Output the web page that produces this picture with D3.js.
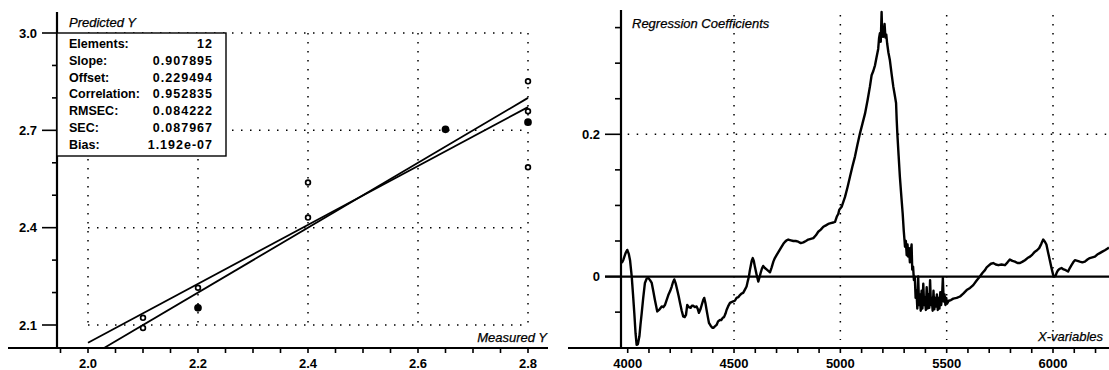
<!DOCTYPE html>
<html><head><meta charset="utf-8">
<script src="https://cdn.jsdelivr.net/npm/d3@7"></script>
<style>
body{margin:0;background:#fff;}
svg{display:block;}
text{font-family:"Liberation Sans",Arial,sans-serif;fill:#000;}
.tick{font-weight:bold;font-size:13px;}
.title{font-style:italic;font-size:13px;stroke:#000;stroke-width:0.25px;}
.stat{font-weight:bold;font-size:12.5px;}
</style></head><body>
<svg id="c" width="1109" height="370"></svg>
<script>
// ---------- data ----------
const measuredY  = [2.1, 2.1, 2.2, 2.2, 2.4, 2.4, 2.65, 2.8, 2.8, 2.8, 2.8];
const predictedY = [2.122, 2.091, 2.215, 2.153, 2.539, 2.431, 2.703, 2.851, 2.759, 2.725, 2.586];
const pointFilled = [0, 0, 0, 1, 0, 0, 1, 0, 0, 1, 0];
const statLabels = ["Elements:", "Slope:", "Offset:", "Correlation:", "RMSEC:", "SEC:", "Bias:"];
const statValues = ["12", "0.907895", "0.229494", "0.952835", "0.084222", "0.087967", "1.192e-07"];
const slope = 0.907895, offset = 0.229494;
const leftXTicks = [2.0, 2.2, 2.4, 2.6, 2.8];
const leftYTicks = [2.1, 2.4, 2.7, 3.0];
const rightXTicks = [4000, 4500, 5000, 5500, 6000];
const rightYTicks = [0, 0.2];

const coefX = [3972,3979,3990,3998,4005,4011,4019,4025,4031,4037,4042,4048,4055,4060,4066,4073,4081,4089,4097,4105,4113,4120,4128,4139,4150,4160,4168,4175,4183,4191,4200,4207,4213,4219,4226,4233,4240,4246,4254,4261,4268,4274,4280,4288,4296,4302,4308,4316,4324,4330,4335,4342,4348,4355,4360,4366,4371,4377,4382,4390,4398,4403,4410,4418,4425,4434,4440,4447,4453,4460,4465,4472,4481,4488,4496,4504,4512,4520,4528,4535,4543,4550,4559,4565,4570,4574,4578,4583,4588,4593,4598,4606,4614,4620,4625,4631,4637,4645,4653,4661,4669,4677,4685,4692,4700,4712,4724,4732,4740,4748,4755,4767,4779,4790,4802,4814,4826,4838,4849,4861,4873,4885,4896,4908,4920,4932,4943,4955,4967,4975,4983,4990,4995,5006,5014,5022,5034,5045,5057,5069,5080,5092,5104,5116,5128,5139,5147,5155,5163,5170,5178,5182,5186,5190,5194,5197,5201,5205,5208,5212,5216,5220,5226,5233,5241,5249,5256,5262,5265,5268,5274,5280,5287,5293,5298,5302,5304,5308,5312,5316,5319,5323,5327,5331,5335,5338,5342,5346,5350,5354,5358,5362,5366,5370,5374,5378,5382,5386,5390,5394,5398,5402,5406,5410,5414,5418,5422,5426,5430,5434,5438,5442,5446,5450,5454,5458,5462,5466,5470,5474,5478,5482,5486,5490,5494,5498,5502,5510,5520,5531,5547,5563,5578,5594,5610,5625,5640,5656,5668,5680,5688,5696,5708,5719,5731,5743,5758,5774,5786,5797,5809,5821,5833,5845,5857,5868,5880,5892,5903,5915,5925,5935,5945,5954,5962,5969,5977,5985,5993,6001,6006,6012,6018,6024,6032,6040,6050,6060,6071,6079,6087,6095,6103,6115,6126,6138,6150,6162,6173,6185,6197,6208,6220,6232,6244,6255,6263];
const coefY = [0.019,0.023,0.033,0.0375,0.032,0.023,0.0,-0.025,-0.051,-0.08,-0.096,-0.095,-0.084,-0.068,-0.051,-0.03,-0.009,-0.003,-0.002,-0.005,-0.009,-0.02,-0.033,-0.049,-0.046,-0.042,-0.043,-0.040,-0.033,-0.026,-0.02,-0.014,-0.008,-0.004,-0.01,-0.019,-0.028,-0.037,-0.048,-0.056,-0.057,-0.054,-0.040,-0.043,-0.044,-0.041,-0.041,-0.043,-0.042,-0.046,-0.051,-0.046,-0.040,-0.033,-0.030,-0.038,-0.047,-0.057,-0.065,-0.069,-0.072,-0.072,-0.070,-0.068,-0.063,-0.061,-0.061,-0.058,-0.057,-0.052,-0.047,-0.042,-0.037,-0.036,-0.035,-0.034,-0.030,-0.029,-0.026,-0.024,-0.023,-0.019,-0.014,-0.006,0.0,0.008,0.014,0.022,0.026,0.022,0.014,0.003,-0.007,-0.001,0.005,0.011,0.015,0.012,0.010,0.008,0.006,0.013,0.021,0.026,0.030,0.036,0.042,0.046,0.049,0.051,0.052,0.051,0.050,0.050,0.049,0.047,0.048,0.050,0.052,0.053,0.054,0.058,0.063,0.066,0.070,0.072,0.074,0.075,0.076,0.077,0.084,0.088,0.094,0.098,0.105,0.112,0.126,0.140,0.155,0.169,0.185,0.201,0.215,0.229,0.248,0.267,0.283,0.289,0.297,0.308,0.320,0.335,0.342,0.330,0.372,0.338,0.337,0.345,0.355,0.336,0.340,0.328,0.315,0.304,0.285,0.267,0.255,0.244,0.22,0.201,0.17,0.140,0.112,0.089,0.065,0.050,0.042,0.05,0.03,0.045,0.028,0.040,0.02,0.035,0.045,0.01,0.014,-0.005,0.0,-0.03,-0.02,-0.045,0.0,-0.04,-0.025,-0.048,-0.02,-0.045,-0.01,-0.04,-0.03,-0.047,-0.015,-0.045,-0.025,-0.044,-0.005,-0.04,-0.03,-0.048,-0.02,-0.046,-0.03,-0.042,-0.025,-0.047,-0.03,-0.045,-0.022,-0.04,-0.03,-0.002,-0.035,-0.025,-0.04,-0.03,-0.038,-0.034,-0.033,-0.031,-0.030,-0.028,-0.024,-0.019,-0.016,-0.012,-0.006,0.0,0.005,0.009,0.013,0.015,0.018,0.019,0.017,0.016,0.017,0.016,0.020,0.024,0.022,0.021,0.019,0.019,0.021,0.023,0.026,0.028,0.031,0.035,0.037,0.040,0.046,0.052,0.049,0.045,0.034,0.023,0.012,0.002,0.0,0.001,0.006,0.009,0.011,0.012,0.010,0.009,0.007,0.012,0.016,0.020,0.023,0.022,0.021,0.020,0.021,0.024,0.026,0.027,0.028,0.031,0.033,0.035,0.037,0.039,0.041];

// ---------- drawing ----------
const svg = d3.select("#c");
const dot = "1.5,7.5";

// ===== Left panel =====
const xL = d3.scaleLinear().domain([2.0, 2.8]).range([88, 528]);
const yL = d3.scaleLinear().domain([2.1, 3.0]).range([325, 33]);
const L = svg.append("g");
const axisY = 348, yAxisX = 57;

// grid
L.selectAll(".gv").data(leftXTicks).join("line")
  .attr("x1", d => xL(d)).attr("x2", d => xL(d))
  .attr("y1", yL(3.0)).attr("y2", yL(2.1))
  .attr("stroke", "#000").attr("stroke-width", 1.5).attr("stroke-dasharray", dot);
L.selectAll(".gh").data(leftYTicks).join("line")
  .attr("x1", xL(2.0)).attr("x2", xL(2.8))
  .attr("y1", d => yL(d)).attr("y2", d => yL(d))
  .attr("stroke", "#000").attr("stroke-width", 1.5).attr("stroke-dasharray", dot);

// lines
const yBottom = yL.invert(axisY);
const x0t = Math.max(2.0, yBottom);
L.append("line").attr("x1", xL(x0t)).attr("y1", yL(x0t)).attr("x2", xL(2.8)).attr("y2", yL(2.8))
  .attr("stroke", "#000").attr("stroke-width", 1.8);
L.append("line").attr("x1", xL(2.0)).attr("y1", yL(slope*2.0+offset)).attr("x2", xL(2.8)).attr("y2", yL(slope*2.8+offset))
  .attr("stroke", "#000").attr("stroke-width", 1.8);

// points
L.selectAll(".pt").data(measuredY.map((m, i) => ({m, p: predictedY[i], f: pointFilled[i]}))).join("circle")
  .attr("cx", d => xL(d.m)).attr("cy", d => yL(d.p))
  .attr("r", d => d.f ? 3 : 2.4)
  .attr("fill", d => d.f ? "#000" : "#fff")
  .attr("stroke", "#000").attr("stroke-width", 1.7);

// axes
L.append("line").attr("x1", 8).attr("x2", 548).attr("y1", axisY).attr("y2", axisY).attr("stroke", "#000").attr("stroke-width", 2.2);
L.append("line").attr("x1", yAxisX).attr("x2", yAxisX).attr("y1", 12).attr("y2", axisY).attr("stroke", "#000").attr("stroke-width", 2.2);
const xMinorL = d3.range(0, 19).map(i => 1.95 + i*0.05).filter(v => xL(v) > 8 && xL(v) < 548);
L.selectAll(".xt").data(xMinorL).join("line")
  .attr("x1", d => xL(d)).attr("x2", d => xL(d)).attr("y1", axisY).attr("y2", axisY + 5)
  .attr("stroke", "#000").attr("stroke-width", 1.6);
L.selectAll(".xl").data(leftXTicks).join("text").attr("class", "tick")
  .attr("x", d => xL(d)).attr("y", 368).attr("text-anchor", "middle").text(d => d.toFixed(1));
const yMinorL = d3.range(0, 10).map(i => 2.1 + i*0.1).filter(v => yL(v) >= 12 && yL(v) <= axisY);
L.selectAll(".yt").data(yMinorL).join("line")
  .attr("x1", d => leftYTicks.some(t => Math.abs(t-d) < 1e-6) ? 42 : 52).attr("x2", yAxisX)
  .attr("y1", d => yL(d)).attr("y2", d => yL(d))
  .attr("stroke", "#000").attr("stroke-width", 1.6);
L.selectAll(".yl").data(leftYTicks).join("text").attr("class", "tick")
  .attr("x", 37).attr("y", d => yL(d) + 4.5).attr("text-anchor", "end").text(d => d.toFixed(1));

// titles
L.append("text").attr("class", "title").attr("x", 69).attr("y", 27).text("Predicted Y");
L.append("text").attr("class", "title").attr("x", 547).attr("y", 342).attr("text-anchor", "end").text("Measured Y");

// stats box
L.append("rect").attr("x", yAxisX).attr("y", yL(3.0)).attr("width", 169).attr("height", 123)
  .attr("fill", "#fff").attr("stroke", "#000").attr("stroke-width", 1.4);
statLabels.forEach((s, i) => {
  L.append("text").attr("class", "stat").attr("x", 69).attr("y", 48 + i*16.8).text(s);
  L.append("text").attr("class", "stat").attr("x", 213).attr("y", 48 + i*16.8)
    .attr("text-anchor", "end").attr("letter-spacing", "1px").text(statValues[i]);
});

// ===== Right panel =====
const xR = d3.scaleLinear().domain([4000, 6000]).range([627.7, 1053]);
const yR = d3.scaleLinear().domain([-0.1, 0.2]).range([347.7, 134.3]);
const R = svg.append("g");
const rAxisX = 621;

R.selectAll(".gv").data(rightXTicks.filter(d => d > 4000)).join("line")
  .attr("x1", d => xR(d)).attr("x2", d => xR(d)).attr("y1", 15).attr("y2", 340)
  .attr("stroke", "#000").attr("stroke-width", 1.5).attr("stroke-dasharray", dot);
R.append("line").attr("x1", xR(4000)).attr("x2", 1109).attr("y1", yR(0.2)).attr("y2", yR(0.2))
  .attr("stroke", "#000").attr("stroke-width", 1.5).attr("stroke-dasharray", dot);
// zero line
R.append("line").attr("x1", 605).attr("x2", 1109).attr("y1", yR(0)).attr("y2", yR(0))
  .attr("stroke", "#000").attr("stroke-width", 2.2);

// curve
svg.append("clipPath").attr("id", "rc").append("rect")
  .attr("x", rAxisX).attr("y", 0).attr("width", 1109 - rAxisX).attr("height", axisY);
const line = d3.line().x(d => xR(d[0])).y(d => yR(d[1]));
R.append("path").attr("d", line(coefX.map((x, i) => [x, coefY[i]])))
  .attr("fill", "none").attr("stroke", "#000").attr("stroke-width", 2.4).attr("stroke-linejoin", "round")
  .attr("clip-path", "url(#rc)");

// axes
R.append("line").attr("x1", 568).attr("x2", 1109).attr("y1", axisY).attr("y2", axisY).attr("stroke", "#000").attr("stroke-width", 2.2);
R.append("line").attr("x1", rAxisX).attr("x2", rAxisX).attr("y1", 10).attr("y2", axisY).attr("stroke", "#000").attr("stroke-width", 2.2);
const xMinorR = d3.range(39, 63).map(i => i*100).filter(v => xR(v) > rAxisX && xR(v) < 1109);
R.selectAll(".xt").data(xMinorR).join("line")
  .attr("x1", d => xR(d)).attr("x2", d => xR(d)).attr("y1", axisY).attr("y2", axisY + 5)
  .attr("stroke", "#000").attr("stroke-width", 1.6);
R.selectAll(".xl").data(rightXTicks).join("text").attr("class", "tick")
  .attr("x", d => xR(d)).attr("y", 368).attr("text-anchor", "middle").text(d => d);
const yMinorR = d3.range(-1, 8).map(i => i*0.05).filter(v => yR(v) >= 10);
R.selectAll(".yt").data(yMinorR).join("line")
  .attr("x1", d => rightYTicks.some(t => Math.abs(t-d) < 1e-6) ? 605 : 615).attr("x2", rAxisX)
  .attr("y1", d => yR(d)).attr("y2", d => yR(d))
  .attr("stroke", "#000").attr("stroke-width", 1.6);
R.selectAll(".yl").data(rightYTicks).join("text").attr("class", "tick")
  .attr("x", 600).attr("y", d => yR(d) + 4.5).attr("text-anchor", "end").text(d => d === 0 ? "0" : d.toFixed(1));

R.append("text").attr("class", "title").attr("x", 632).attr("y", 28).text("Regression Coefficients");
R.append("text").attr("class", "title").attr("x", 1038).attr("y", 341).text("X-variables");
</script>
</body></html>
